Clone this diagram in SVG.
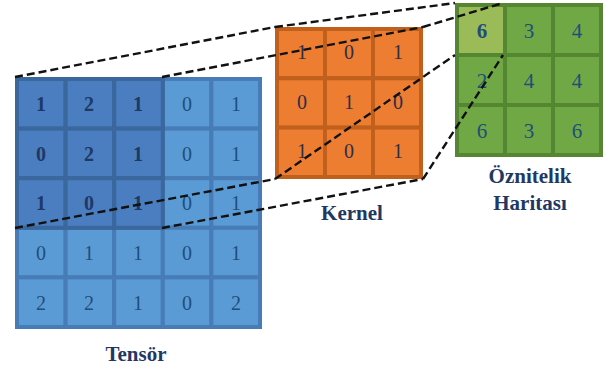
<svg xmlns="http://www.w3.org/2000/svg" width="604" height="367" viewBox="0 0 604 367">
<style>
.tl{fill:#5b9bd5;stroke:#477cb6;stroke-width:4}
.td{fill:#4a7ec0;stroke:#3a679c;stroke-width:4}
.k{fill:#ed7d31;stroke:#c0601c;stroke-width:4}
.f{fill:#6fa845;stroke:#558632;stroke-width:4}
.fh{fill:#9bbb59;stroke:#558632;stroke-width:4}
text{font-family:"Liberation Serif","Times New Roman",serif;text-anchor:middle}
.nl{font-size:20px;fill:#1f4e79}
.nd{font-size:20px;fill:#1f3864;font-weight:bold}
.nk{font-size:20px;fill:#2e2e4a}
.nf{font-size:21px;fill:#1f4e79}
.lab{font-size:21px;font-weight:bold;fill:#1f3864}
.dash{stroke:#111;stroke-width:2.4;stroke-dasharray:8 4;fill:none}
</style>
<g id="tensor">
<rect class="tl" x="162.8" y="79" width="48.6" height="49.6"/><rect class="tl" x="211.4" y="79" width="48.6" height="49.6"/>
<rect class="tl" x="162.8" y="128.6" width="48.6" height="49.6"/><rect class="tl" x="211.4" y="128.6" width="48.6" height="49.6"/>
<rect class="tl" x="162.8" y="178.2" width="48.6" height="49.6"/><rect class="tl" x="211.4" y="178.2" width="48.6" height="49.6"/>
<rect class="tl" x="17" y="227.8" width="48.6" height="49.6"/><rect class="tl" x="65.6" y="227.8" width="48.6" height="49.6"/><rect class="tl" x="114.2" y="227.8" width="48.6" height="49.6"/><rect class="tl" x="162.8" y="227.8" width="48.6" height="49.6"/><rect class="tl" x="211.4" y="227.8" width="48.6" height="49.6"/>
<rect class="tl" x="17" y="277.4" width="48.6" height="49.6"/><rect class="tl" x="65.6" y="277.4" width="48.6" height="49.6"/><rect class="tl" x="114.2" y="277.4" width="48.6" height="49.6"/><rect class="tl" x="162.8" y="277.4" width="48.6" height="49.6"/><rect class="tl" x="211.4" y="277.4" width="48.6" height="49.6"/>
<rect class="td" x="17" y="79" width="48.6" height="49.6"/><rect class="td" x="65.6" y="79" width="48.6" height="49.6"/><rect class="td" x="114.2" y="79" width="48.6" height="49.6"/>
<rect class="td" x="17" y="128.6" width="48.6" height="49.6"/><rect class="td" x="65.6" y="128.6" width="48.6" height="49.6"/><rect class="td" x="114.2" y="128.6" width="48.6" height="49.6"/>
<rect class="td" x="17" y="178.2" width="48.6" height="49.6"/><rect class="td" x="65.6" y="178.2" width="48.6" height="49.6"/><rect class="td" x="114.2" y="178.2" width="48.6" height="49.6"/>
<text class="nd" x="41" y="111">1</text><text class="nd" x="89" y="111">2</text><text class="nd" x="138" y="111">1</text><text class="nl" x="187" y="111">0</text><text class="nl" x="236" y="111">1</text>
<text class="nd" x="41" y="161">0</text><text class="nd" x="89" y="161">2</text><text class="nd" x="138" y="161">1</text><text class="nl" x="187" y="161">0</text><text class="nl" x="236" y="161">1</text>
<text class="nd" x="41" y="210">1</text><text class="nd" x="89" y="210">0</text><text class="nd" x="138" y="210">1</text><text class="nl" x="187" y="210">0</text><text class="nl" x="236" y="210">1</text>
<text class="nl" x="41" y="260">0</text><text class="nl" x="89" y="260">1</text><text class="nl" x="138" y="260">1</text><text class="nl" x="187" y="260">0</text><text class="nl" x="236" y="260">1</text>
<text class="nl" x="41" y="310">2</text><text class="nl" x="89" y="310">2</text><text class="nl" x="138" y="310">1</text><text class="nl" x="187" y="310">0</text><text class="nl" x="236" y="310">2</text>
<text class="lab" x="136" y="361">Tensör</text>
</g>
<g id="kernel">
<rect class="k" x="277" y="29" width="48" height="49.3"/><rect class="k" x="325" y="29" width="48" height="49.3"/><rect class="k" x="373" y="29" width="48" height="49.3"/>
<rect class="k" x="277" y="78.3" width="48" height="49.3"/><rect class="k" x="325" y="78.3" width="48" height="49.3"/><rect class="k" x="373" y="78.3" width="48" height="49.3"/>
<rect class="k" x="277" y="127.6" width="48" height="49.4"/><rect class="k" x="325" y="127.6" width="48" height="49.4"/><rect class="k" x="373" y="127.6" width="48" height="49.4"/>
<text class="nk" x="302" y="59">1</text><text class="nk" x="349" y="59">0</text><text class="nk" x="398" y="59">1</text>
<text class="nk" x="302" y="109">0</text><text class="nk" x="349" y="109">1</text><text class="nk" x="398" y="109">0</text>
<text class="nk" x="302" y="158">1</text><text class="nk" x="349" y="158">0</text><text class="nk" x="398" y="158">1</text>
<text class="lab" x="352" y="220">Kernel</text>
</g>
<g id="feature-map">
<rect class="f" x="505" y="5" width="48" height="50"/><rect class="f" x="553" y="5" width="48" height="50"/>
<rect class="f" x="457" y="55" width="48" height="50"/><rect class="f" x="505" y="55" width="48" height="50"/><rect class="f" x="553" y="55" width="48" height="50"/>
<rect class="f" x="457" y="105" width="48" height="50"/><rect class="f" x="505" y="105" width="48" height="50"/><rect class="f" x="553" y="105" width="48" height="50"/>
<rect class="fh" x="457" y="5" width="48" height="50"/>
<text class="nf" x="482" y="38" font-weight="bold">6</text><text class="nf" x="529" y="38">3</text><text class="nf" x="577" y="38">4</text>
<text class="nf" x="482" y="88">2</text><text class="nf" x="529" y="88">4</text><text class="nf" x="577" y="88">4</text>
<text class="nf" x="482" y="138">6</text><text class="nf" x="529" y="138">3</text><text class="nf" x="577" y="138">6</text>
<text class="lab" x="530" y="183">Öznitelik</text>
<text class="lab" x="530" y="210">Haritası</text>
</g>
<g id="connectors">
<line class="dash" x1="15" y1="77" x2="275" y2="27"/>
<line class="dash" x1="162" y1="77" x2="423" y2="27"/>
<line class="dash" x1="15" y1="228" x2="275" y2="179"/>
<line class="dash" x1="162" y1="228" x2="423" y2="179"/>
<line class="dash" x1="275" y1="27" x2="455" y2="3"/>
<line class="dash" x1="423" y1="27" x2="503" y2="3"/>
<line class="dash" x1="275" y1="179" x2="455" y2="55"/>
<line class="dash" x1="423" y1="179" x2="503" y2="55"/>
</g>
</svg>
